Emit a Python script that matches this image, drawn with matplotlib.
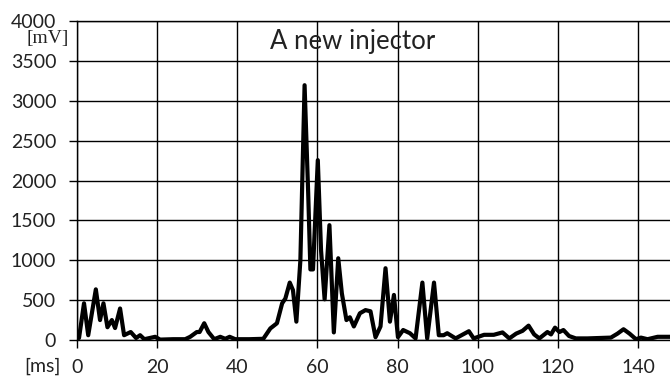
import numpy as np
import matplotlib
matplotlib.use("Agg")
import matplotlib.pyplot as plt

# time [ms] and signal [mV]
time_ms = [0.5, 1.75, 2.8, 4.7, 5.75, 6.6, 7.6, 8.7, 9.5, 10.75, 11.75, 13.4, 14.75,
           15.75, 16.8, 19.5, 20.75, 24.0, 27.0, 28.25, 29.9, 30.6, 31.75, 32.8,
           34.25, 35.75, 37.0, 38.1, 39.5, 43.0, 46.5, 48.25, 49.9, 51.2, 52.0,
           53.1, 53.9, 54.75, 55.75, 56.8, 57.7, 58.25, 58.9, 60.1, 60.9, 61.8,
           63.0, 64.1, 65.2, 66.1, 67.25, 68.1, 69.1, 70.6, 72.0, 73.25, 74.5,
           75.75, 77.0, 78.1, 79.1, 80.1, 81.4, 83.1, 84.5, 86.2, 87.4, 89.1,
           90.3, 91.5, 92.4, 94.5, 97.8, 99.0, 101.6, 104.0, 106.2, 107.9, 109.6,
           111.2, 112.7, 114.1, 115.4, 117.4, 118.3, 119.3, 120.4, 121.4, 122.8,
           124.5, 127.4, 133.25, 134.9, 136.4, 137.9, 139.5, 140.75, 142.4,
           144.9, 148.2]
signal_mv = [25, 460, 60, 635, 250, 460, 160, 250, 150, 395, 60, 100, 25,
             60, 10, 40, 5, 10, 10, 40, 100, 100, 210, 100,
             10, 40, 15, 40, 10, 10, 15, 145, 210, 460, 520,
             720, 625, 230, 1000, 3195, 1840, 885, 885, 2255, 1130, 510,
             1440, 95, 1025, 585, 250, 285, 170, 335, 375, 360, 35,
             170, 900, 230, 565, 35, 125, 85, 20, 720, 20, 720,
             60, 60, 85, 20, 110, 20, 65, 65, 95, 20, 80,
             115, 180, 70, 20, 100, 70, 155, 100, 125, 50,
             20, 20, 30, 80, 135, 80, 10, 30, 10,
             40, 40]

x_ticks = [0, 20, 40, 60, 80, 100, 120, 140]
y_ticks = [0, 500, 1000, 1500, 2000, 2500, 3000, 3500, 4000]

tick_font = "Lato"

fig = plt.figure(figsize=(6.7, 3.78), dpi=100)
ax = fig.add_axes([77 / 670, 38 / 378, 593 / 670, 319 / 378])

ax.plot(time_ms, signal_mv, color="black", lw=3.0, solid_joinstyle="round",
        solid_capstyle="round", zorder=3)

ax.set_xlim(0, 148)
ax.set_ylim(0, 4000)
ax.set_xticks(x_ticks)
ax.set_yticks(y_ticks)
ax.grid(True, color="black", lw=1.0)
ax.set_axisbelow(True)
ax.spines["right"].set_visible(False)
for side in ["left", "top", "bottom"]:
    ax.spines[side].set_linewidth(1.0)

ax.tick_params(axis="both", direction="out", length=6, width=1.0, color="black",
               labelsize=14)
ax.tick_params(axis="y", pad=9)
ax.tick_params(axis="x", pad=8)
for lab in ax.get_xticklabels() + ax.get_yticklabels():
    lab.set_family(tick_font)
    lab.set_color("#222222")

ax.text(0.465, 0.975, "A new injector", transform=ax.transAxes, ha="center",
        va="top", fontsize=18.5, family=tick_font, color="#222222")
fig.text(48 / 670, 1 - 39 / 378, "[mV]", ha="center", va="center",
         fontsize=14, family="Liberation Serif", color="#222222")
fig.text(42 / 670, 1 - 366 / 378, "[ms]", ha="center", va="center",
         fontsize=14, family=tick_font, color="#222222")

fig.savefig("out.png", dpi=100)
